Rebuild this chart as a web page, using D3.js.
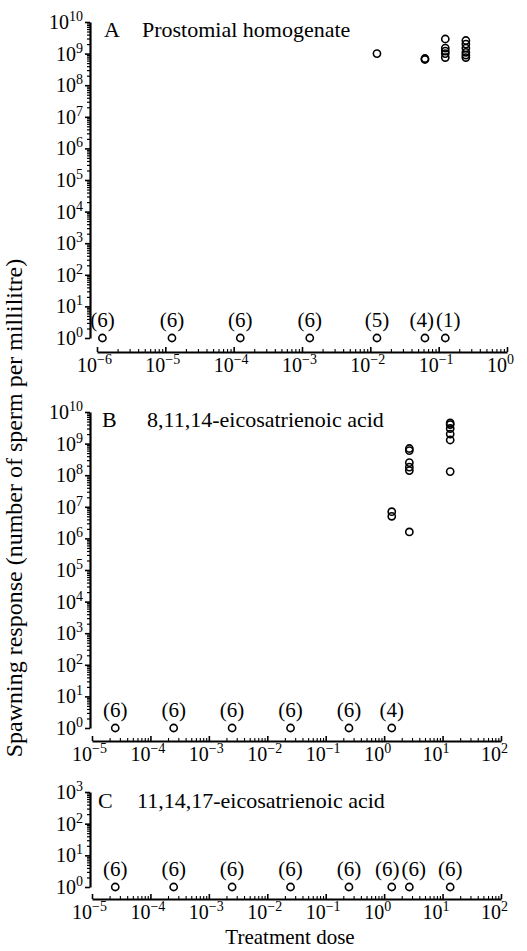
<!DOCTYPE html>
<html><head><meta charset="utf-8">
<script src="https://cdn.jsdelivr.net/npm/d3@7"></script>
<style>
body{margin:0;background:#fff}
svg{display:block}
text{font-family:"Liberation Serif","Times New Roman",serif;fill:#000}
</style>
</head><body>
<svg id="chart" width="527" height="951"></svg>
<script>
// ---------- DATA ----------
const panelLetters = ["A", "B", "C"];
const panelNames = ["Prostomial homogenate", "8,11,14-eicosatrienoic acid", "11,14,17-eicosatrienoic acid"];
const yLabel = "Spawning response (number of sperm per millilitre)";
const xLabel = "Treatment dose";

// x tick exponents
const xExpA = [-6, -5, -4, -3, -2, -1, 0];
const xExpBC = [-5, -4, -3, -2, -1, 0, 1, 2];
// y tick exponents
const yExpAB = [0, 1, 2, 3, 4, 5, 6, 7, 8, 9, 10];
const yExpC = [0, 1, 2, 3];

// Panel A: doses with zero response (plotted at 10^0) and their counts
const zeroDosesA = [1.2e-6, 1.25e-5, 1.25e-4, 1.3e-3, 1.25e-2, 6.3e-2, 0.125];
const zeroCountsA = [6, 6, 6, 6, 5, 4, 1];
// Panel A: responding doses and responses
const respDosesA = [1.25e-2, 6.3e-2, 0.125, 0.25];
const respValuesA = [
  [1.0e9],
  [7.0e8, 6.5e8],
  [2.9e9, 1.5e9, 1.2e9, 1.0e9, 7.5e8],
  [2.6e9, 2.0e9, 1.5e9, 1.1e9, 9.0e8, 7.5e8]
];

// Panel B
const zeroDosesB = [2.5e-5, 2.5e-4, 2.5e-3, 2.5e-2, 0.25, 1.35];
const zeroCountsB = [6, 6, 6, 6, 6, 4];
const respDosesB = [1.35, 2.7, 13.5];
const respValuesB = [
  [7.0e6, 5.0e6],
  [7.0e8, 6.0e8, 2.5e8, 1.8e8, 1.4e8, 1.6e6],
  [4.5e9, 4.0e9, 3.0e9, 2.0e9, 1.3e9, 1.3e8]
];

// Panel C
const zeroDosesC = [2.5e-5, 2.5e-4, 2.5e-3, 2.5e-2, 0.25, 1.35, 2.7, 13.5];
const zeroCountsC = [6, 6, 6, 6, 6, 6, 6, 6];
const respDosesC = [];
const respValuesC = [];

// ---------- LAYOUT ----------
const panels = [
  {letter: panelLetters[0], name: panelNames[0], xExp: xExpA, yExp: yExpAB,
   zeroDoses: zeroDosesA, zeroCounts: zeroCountsA, respDoses: respDosesA, respValues: respValuesA,
   x0: 97, x1: 507, yTop: 22, yBot: 338, xAxisY: 352, letterX: 104, nameX: 142, titleY: 37},
  {letter: panelLetters[1], name: panelNames[1], xExp: xExpBC, yExp: yExpAB,
   zeroDoses: zeroDosesB, zeroCounts: zeroCountsB, respDoses: respDosesB, respValues: respValuesB,
   x0: 92, x1: 501, yTop: 412, yBot: 728, xAxisY: 741, letterX: 102, nameX: 147, titleY: 427},
  {letter: panelLetters[2], name: panelNames[2], xExp: xExpBC, yExp: yExpC,
   zeroDoses: zeroDosesC, zeroCounts: zeroCountsC, respDoses: respDosesC, respValues: respValuesC,
   x0: 92, x1: 501, yTop: 792, yBot: 887, xAxisY: 899, letterX: 98, nameX: 137, titleY: 808}
];
const yAxisX = 90;

const svg = d3.select("#chart");
const minus = "\u2212";

function powLabel(sel, exp) {
  sel.append("tspan").text("10");
  sel.append("tspan").attr("dy", -8).attr("font-size", 14)
     .text(exp < 0 ? minus + Math.abs(exp) : String(exp));
}

function minorVals(expArr) {
  const out = [];
  for (let e = expArr[0]; e < expArr[expArr.length - 1]; e++)
    for (let m = 2; m <= 9; m++) out.push(m * Math.pow(10, e));
  return out;
}

panels.forEach(p => {
  const xs = d3.scaleLog()
    .domain([Math.pow(10, p.xExp[0]), Math.pow(10, p.xExp[p.xExp.length - 1])])
    .range([p.x0, p.x1]);
  const ys = d3.scaleLog()
    .domain([Math.pow(10, p.yExp[0]), Math.pow(10, p.yExp[p.yExp.length - 1])])
    .range([p.yBot, p.yTop]);

  const g = svg.append("g");

  // y axis major
  const yMajor = p.yExp.map(e => Math.pow(10, e));
  const ya = g.append("g").attr("transform", `translate(${yAxisX},0)`)
    .call(d3.axisLeft(ys).tickValues(yMajor).tickSize(5).tickSizeOuter(0).tickFormat(""));
  ya.select(".domain").attr("stroke", "#000").attr("stroke-width", 2.2);
  ya.selectAll(".tick line").attr("stroke", "#000").attr("stroke-width", 1.6);
  g.append("g").attr("transform", `translate(${yAxisX},0)`)
    .call(d3.axisLeft(ys).tickValues(minorVals(p.yExp)).tickSize(3).tickFormat(""))
    .call(s => s.select(".domain").remove())
    .selectAll(".tick line").attr("stroke", "#000").attr("stroke-width", 1.2);
  // y labels
  p.yExp.forEach(e => {
    const t = g.append("text").attr("x", yAxisX - 7).attr("y", ys(Math.pow(10, e)) + 7)
      .attr("text-anchor", "end").attr("font-size", 20);
    powLabel(t, e);
  });

  // x axis
  const xMajor = p.xExp.map(e => Math.pow(10, e));
  const xa = g.append("g").attr("transform", `translate(0,${p.xAxisY})`)
    .call(d3.axisBottom(xs).tickValues(xMajor).tickSizeInner(-5).tickSizeOuter(0).tickFormat(""));
  xa.select(".domain").attr("stroke", "#000").attr("stroke-width", 1.8);
  xa.selectAll(".tick line").attr("stroke", "#000").attr("stroke-width", 1.6);
  g.append("g").attr("transform", `translate(0,${p.xAxisY})`)
    .call(d3.axisBottom(xs).tickValues(minorVals(p.xExp)).tickSizeInner(-3).tickFormat(""))
    .call(s => s.select(".domain").remove())
    .selectAll(".tick line").attr("stroke", "#000").attr("stroke-width", 1.1);
  p.xExp.forEach(e => {
    const t = g.append("text").attr("x", xs(Math.pow(10, e)) - 20).attr("y", p.xAxisY + 20)
      .attr("font-size", 20);
    powLabel(t, e);
  });

  // title
  g.append("text").attr("x", p.letterX).attr("y", p.titleY).attr("font-size", 22).text(p.letter);
  g.append("text").attr("x", p.nameX).attr("y", p.titleY).attr("font-size", 22).text(p.name);

  // zero-response circles and counts
  g.selectAll("circle.z").data(p.zeroDoses).join("circle")
    .attr("cx", d => xs(d)).attr("cy", ys(1)).attr("r", 3.6)
    .attr("fill", "none").attr("stroke", "#000").attr("stroke-width", 1.6);
  const labels = g.selectAll("text.n").data(p.zeroDoses).join("text")
    .attr("class", "n")
    .attr("x", d => xs(d)).attr("y", ys(1) - 11).attr("text-anchor", "middle")
    .attr("font-size", 21).text((d, i) => `(${p.zeroCounts[i]})`);
  // spread labels that would collide (as in the original figure)
  const nodes = labels.nodes();
  const cx = p.zeroDoses.map(d => xs(d));
  const w = nodes.map(n => n.getComputedTextLength());
  for (let i = 0; i < nodes.length - 1; i++) {
    const need = (w[i] + w[i + 1]) / 2 + 2;
    if (cx[i + 1] - cx[i] < need) {
      const mid = (cx[i] + cx[i + 1]) / 2;
      cx[i] = mid - need / 2; cx[i + 1] = mid + need / 2;
    }
  }
  nodes.forEach((n, i) => d3.select(n).attr("x", cx[i]));

  // responding circles
  const pts = [];
  p.respDoses.forEach((d, i) => p.respValues[i].forEach(v => pts.push([d, v])));
  g.selectAll("circle.r").data(pts).join("circle")
    .attr("cx", d => xs(d[0])).attr("cy", d => ys(d[1])).attr("r", 3.6)
    .attr("fill", "none").attr("stroke", "#000").attr("stroke-width", 1.6);
});

// axis titles
svg.append("text").attr("transform", "translate(22,508) rotate(-90)")
  .attr("text-anchor", "middle").attr("font-size", 24).text(yLabel);
svg.append("text").attr("x", 290).attr("y", 944).attr("text-anchor", "middle")
  .attr("font-size", 21).text(xLabel);
</script>
</body></html>
